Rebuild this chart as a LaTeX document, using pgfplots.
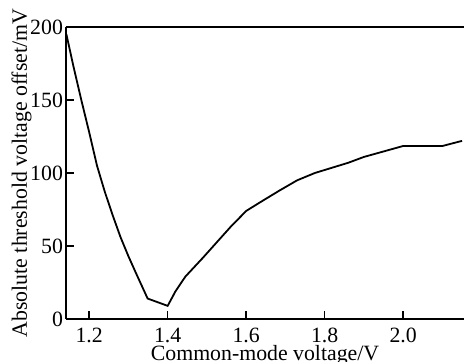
\documentclass[border=0pt]{standalone}
\usepackage{fontspec}
\setmainfont{Liberation Serif}
\usepackage{pgfplots}
\pgfplotsset{compat=1.18}
\begin{document}
\begin{tikzpicture}[font=\fontsize{10.9pt}{12pt}\selectfont]
\begin{axis}[
  name=ax, at={(0,0)}, anchor=south west,
  scale only axis, width=199pt, height=146pt,
  xmin=1.141, xmax=2.155, ymin=0, ymax=200,
  axis x line=box, axis y line=left,
  axis line style={-, line width=0.9pt},
  xtick={1.2,1.4,1.6,1.8,2.0},
  ytick={0,50,100,150,200},
  xtick pos=bottom, ytick pos=left,
  tick align=inside,
  major tick length=3.75pt,
  tick style={black, line width=0.8pt},
  /pgf/number format/assume math mode=true,
  tick label style={font=\fontsize{10.9pt}{12pt}\selectfont},
  label style={font=\fontsize{10.9pt}{12pt}\selectfont},
  xticklabel style={/pgf/number format/fixed, /pgf/number format/fixed zerofill, /pgf/number format/precision=1, yshift=-1pt},
  yticklabel style={xshift=2pt},
  xlabel={Common-mode voltage/V},
  ylabel={Absolute threshold voltage offset/mV},
  xlabel style={at={(axis description cs:0.5,0)}, anchor=base, yshift=-20.5pt},
  ylabel style={at={(axis description cs:0,0.5)}, anchor=base, yshift=19.5pt},
  clip=false,
]
\addplot[black, line width=0.9pt] coordinates {
(1.142,195) (1.16,173) (1.18,150) (1.20,128) (1.22,105) (1.24,87)
(1.26,71) (1.28,56) (1.30,43) (1.32,31) (1.349,14) (1.40,9)
(1.42,19) (1.445,29) (1.49,42) (1.53,54) (1.56,63) (1.60,74)
(1.636,80) (1.685,88) (1.73,95) (1.775,100) (1.86,107) (1.90,111)
(2.00,118.5) (2.10,118.5) (2.15,122)
};
\end{axis}
\pgfresetboundingbox
\path[use as bounding box] (-33pt,-21.5pt) rectangle (199pt,159.5pt);
\end{tikzpicture}
\end{document}
